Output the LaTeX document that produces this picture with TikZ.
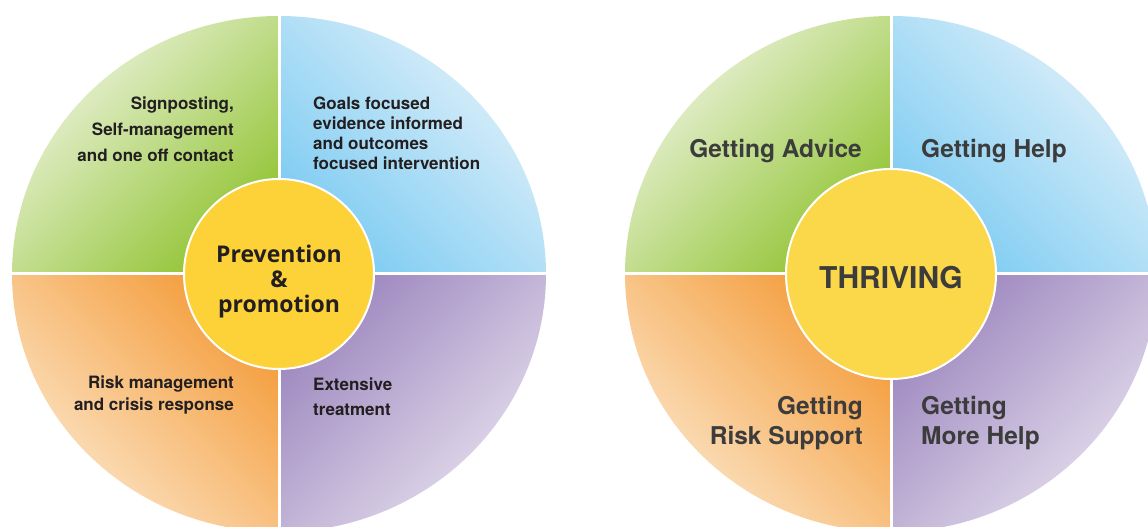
\documentclass[tikz,border=0pt]{standalone}
\usepackage{fontspec}
\setmainfont{TeX Gyre Heros}
\newfontfamily\hubfont{Open Sans}
\usepackage{xcolor}

\definecolor{leafgreen}{RGB}{146,196,52}
\definecolor{palegreen}{RGB}{240,245,228}
\definecolor{skyblue}{RGB}{124,203,242}
\definecolor{paleblue}{RGB}{228,242,250}
\definecolor{tangerine}{RGB}{244,156,58}
\definecolor{paleorange}{RGB}{252,232,205}
\definecolor{lavender}{RGB}{156,134,190}
\definecolor{palelavender}{RGB}{232,227,240}
\definecolor{sunyellow}{RGB}{252,210,56}
\definecolor{sunlight}{RGB}{250,216,74}
\definecolor{inkblack}{RGB}{35,31,32}
\definecolor{inkgrey}{RGB}{60,60,60}

\tikzset{
  greenpart/.style={top color=palegreen, bottom color=leafgreen, shading angle=45},
  bluepart/.style={top color=paleblue, bottom color=skyblue, shading angle=-45},
  orangepart/.style={top color=paleorange, bottom color=tangerine, shading angle=135},
  purplepart/.style={top color=palelavender, bottom color=lavender, shading angle=-135},
  gap/.style={white, line width=3},
  hub/.style={circle, draw=white, line width=2},
  smalltext/.style={text=inkblack, inner sep=0, font=\fontsize{17}{20}\selectfont\bfseries},
  bigtext/.style={text=inkgrey, inner sep=0, font=\fontsize{24.5}{30}\selectfont\bfseries}
}

\begin{document}
\begin{tikzpicture}[x=1pt, y=1pt]
        \useasboundingbox (0, 0) rectangle (1148, 527);
        \clip (0, 0) rectangle (1148, 527);
        % Left wheel
        \shade [greenpart] (279, 253) -- ++(0, 258) arc [start angle=90, end angle=180, x radius=267, y radius=258] -- cycle;
        \shade [bluepart] (279, 253) -- ++(267, 0) arc [start angle=0, end angle=90, x radius=267, y radius=258] -- cycle;
        \shade [orangepart] (279, 253) -- ++(-267, 0) arc [start angle=180, end angle=270, x radius=267, y radius=258] -- cycle;
        \shade [purplepart] (279, 253) -- ++(0, -258) arc [start angle=270, end angle=360, x radius=267, y radius=258] -- cycle;
        \draw [gap] (279, 0) -- (279, 527);
        \draw [gap] (0, 253) -- (560, 253);
        \node [hub, fill=sunyellow, minimum size=190] (hubL) at (279, 253) {};
        \node [align=center, text=inkblack, inner sep=0,
               font=\hubfont\fontsize{23}{25}\selectfont\bfseries] (hubLtext) at (279, 245) {Prevention\\\&\\promotion};
        % Left labels
        \node [smalltext, align=right, anchor=east, font=\fontsize{17}{26}\selectfont\bfseries] (signpost) at (234, 398)
              {Signposting,\\Self-management\\and one off contact};
        \node [smalltext, align=left, anchor=west] (goals) at (313, 394)
              {Goals focused\\evidence informed\\and outcomes\\focused intervention};
        \node [smalltext, align=right, anchor=east, font=\fontsize{17}{22}\selectfont\bfseries] (riskmgmt) at (234, 132)
              {Risk management\\and crisis response};
        \node [smalltext, align=left, anchor=west, font=\fontsize{17}{25}\selectfont\bfseries] (extensive) at (313, 130)
              {Extensive\\treatment};
        % Right wheel
        \shade [greenpart] (891, 253) -- ++(0, 258) arc [start angle=90, end angle=180, x radius=266, y radius=258] -- cycle;
        \shade [bluepart] (891, 253) -- ++(266, 0) arc [start angle=0, end angle=90, x radius=266, y radius=258] -- cycle;
        \shade [orangepart] (891, 253) -- ++(-266, 0) arc [start angle=180, end angle=270, x radius=266, y radius=258] -- cycle;
        \shade [purplepart] (891, 253) -- ++(0, -258) arc [start angle=270, end angle=360, x radius=266, y radius=258] -- cycle;
        \draw [gap] (891, 0) -- (891, 527);
        \draw [gap] (600, 253) -- (1148, 253);
        \node [hub, fill=sunlight, minimum size=210] (hubR) at (891, 253) {};
        \node [text=inkgrey, inner sep=0, font=\fontsize{30}{30}\selectfont\bfseries] (hubRtext) at (891, 249) {THRIVING};
        % Right labels
        \node [bigtext, anchor=east] (advice) at (862, 376) {Getting Advice};
        \node [bigtext, anchor=west] (help) at (921, 376) {Getting Help};
        \node [bigtext, align=right, anchor=east] (risksupport) at (863, 104) {Getting\\Risk Support};
        \node [bigtext, align=left, anchor=west] (morehelp) at (921, 104) {Getting\\More Help};
    \end{tikzpicture}
\end{document}
